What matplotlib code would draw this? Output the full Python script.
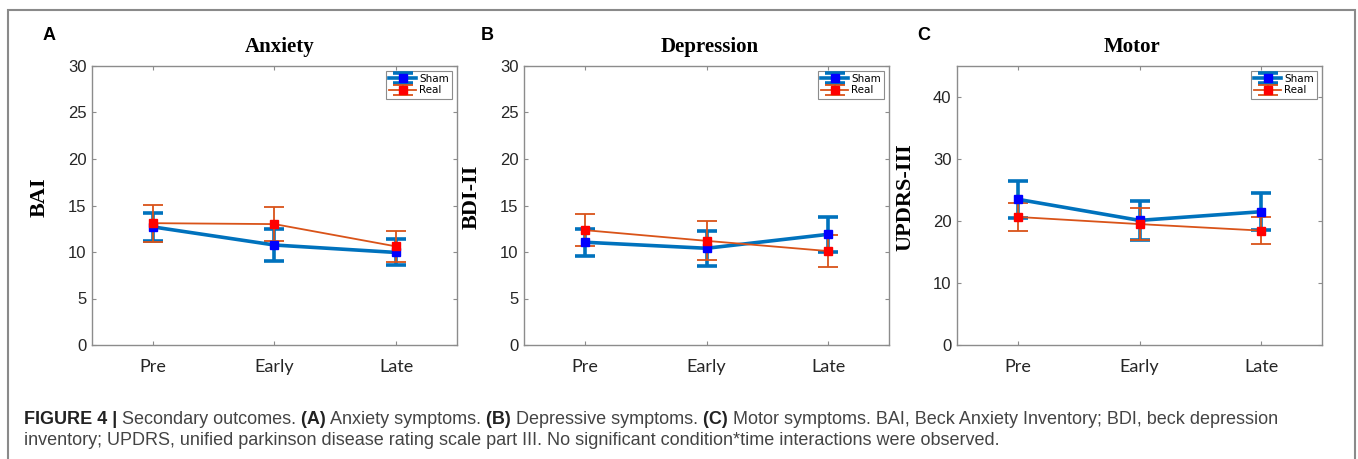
import matplotlib.pyplot as plt
from matplotlib.patches import Rectangle

# time points
times = ["Pre", "Early", "Late"]
x = [1, 2, 3]

# Anxiety (BAI)
anx_sham = [12.7, 10.75, 9.95]
anx_sham_err = [1.5, 1.75, 1.4]
anx_real = [13.1, 13.0, 10.6]
anx_real_err = [2.0, 1.8, 1.65]

# Depression (BDI-II)
dep_sham = [11.05, 10.4, 11.9]
dep_sham_err = [1.45, 1.9, 1.9]
dep_real = [12.35, 11.2, 10.1]
dep_real_err = [1.75, 2.1, 1.7]

# Motor (UPDRS-III)
mot_sham = [23.5, 20.1, 21.5]
mot_sham_err = [2.95, 3.1, 2.95]
mot_real = [20.65, 19.5, 18.45]
mot_real_err = [2.25, 2.55, 2.15]

W, H = 1358, 459
fig = plt.figure(figsize=(W / 100, H / 100), dpi=100)

# letter, title, ylabel, axes left px, letter px, title shift px, ylim, yticks, data
panels = [
    ("A", "Anxiety", "BAI", 92, 43, 5, (0, 30), range(0, 31, 5),
     anx_sham, anx_sham_err, anx_real, anx_real_err),
    ("B", "Depression", "BDI-II", 524, 481, 3, (0, 30), range(0, 31, 5),
     dep_sham, dep_sham_err, dep_real, dep_real_err),
    ("C", "Motor", "UPDRS-III", 957, 917, -8, (0, 45), range(0, 41, 10),
     mot_sham, mot_sham_err, mot_real, mot_real_err),
]

for letter, title, ylab, left, lx, tdx, ylim, yt, sh, sh_e, re, re_e in panels:
    ax = fig.add_axes([left / W, (H - 345) / H, 365 / W, 279 / H])
    ax.errorbar(x, sh, yerr=sh_e, color="#0072BD", lw=2.6, elinewidth=2.6,
                capsize=7, capthick=2.6, marker="s", ms=6,
                mfc="#0000FF", mec="#0000FF", label="Sham")
    ax.errorbar(x, re, yerr=re_e, color="#D95319", lw=1.3, elinewidth=1.3,
                capsize=7, capthick=1.3, marker="s", ms=6,
                mfc="#FF0000", mec="#FF0000", label="Real")
    ax.set_xlim(0.5, 3.5)
    ax.set_ylim(*ylim)
    ax.set_yticks(list(yt))
    ax.set_xticks(x)
    ax.set_xticklabels(times, family="Lato", fontsize=13)
    for t in ax.get_yticklabels():
        t.set_family("Liberation Sans")
        t.set_fontsize(12)
    ax.tick_params(direction="in", top=True, right=True, length=3,
                   color="#8c8c8c", labelcolor="#262626")
    ax.tick_params(axis="x", pad=10)
    ax.tick_params(axis="y", pad=4)
    for s in ax.spines.values():
        s.set_color("#8c8c8c")
        s.set_linewidth(1)
    ax.set_ylabel(ylab, family="Liberation Serif", fontweight="bold", fontsize=16)
    ax.yaxis.set_label_coords(-0.115, 0.53)
    ax.text(0.5 + tdx / 365, 1 + 19 / 279, title, transform=ax.transAxes,
            ha="center", va="center", family="Liberation Serif",
            fontweight="bold", fontsize=15)
    fig.text(lx / W, (H - 35) / H, letter, ha="left", va="center",
             family="Liberation Sans", fontweight="bold", fontsize=13)
    leg = ax.legend(loc="upper right", fontsize=7.5, fancybox=False,
                    edgecolor="#8c8c8c", framealpha=1, borderaxespad=0.45,
                    handlelength=2.6, labelspacing=0.15, borderpad=0.3,
                    handletextpad=0.3)
    leg.get_frame().set_linewidth(0.8)

# caption + frame
cap = fig.add_axes([0, 0, 1, 1])
cap.axis("off")
cap.add_patch(Rectangle((8 / W, -0.1), (1355 - 8) / W, (H - 10) / H + 0.1,
                        fill=False, ec="#8a8a8a", lw=1.5,
                        transform=cap.transAxes, clip_on=False))

line1 = [
    ("FIGURE 4 |", "bold", "#222222"),
    (" Secondary outcomes.", "normal", "#444444"),
    (" (A)", "bold", "#222222"),
    (" Anxiety symptoms.", "normal", "#444444"),
    (" (B)", "bold", "#222222"),
    (" Depressive symptoms.", "normal", "#444444"),
    (" (C)", "bold", "#222222"),
    (" Motor symptoms. BAI, Beck Anxiety Inventory; BDI, beck depression",
     "normal", "#444444"),
]
line2 = ("inventory; UPDRS, unified parkinson disease rating scale part III. "
         "No significant condition*time interactions were observed.")

prev = None
for txt, wt, col in line1:
    if prev is None:
        prev = cap.text(24 / W, (H - 424) / H, txt, fontsize=13, fontweight=wt,
                        color=col, family="Liberation Sans", va="baseline",
                        transform=cap.transAxes)
    else:
        prev = cap.annotate(txt, xy=(1, 0), xycoords=prev, va="bottom",
                            ha="left", fontsize=13, fontweight=wt, color=col,
                            family="Liberation Sans")
cap.text(24 / W, (H - 445) / H, line2, fontsize=13, color="#444444",
         family="Liberation Sans", va="baseline", transform=cap.transAxes)

fig.savefig("out.png", dpi=100)
